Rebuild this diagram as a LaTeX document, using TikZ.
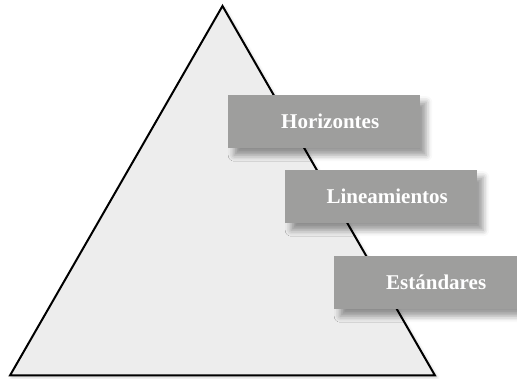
\documentclass[tikz,border=0pt]{standalone}
\usepackage{fontspec}
\setmainfont{Liberation Serif}
\usetikzlibrary{positioning,shadows.blur}
\definecolor{pyrfill}{RGB}{237,237,237}
\definecolor{tagfill}{RGB}{158,158,157}

\begin{document}
\begin{tikzpicture}[x=1pt,y=-1pt]

  % Styles
  \tikzstyle{pyramid}=[draw=black,line width=2pt,fill=pyrfill,blur shadow={shadow xshift=2pt,shadow yshift=-2pt,shadow blur radius=3pt,shadow opacity=20}]
  \tikzstyle{level}=[fill=tagfill,anchor=north west,minimum width=192pt,minimum height=53pt,inner sep=0pt,text=white,font=\fontsize{21}{24}\selectfont\bfseries,blur shadow={shadow xshift=6pt,shadow yshift=-7pt,shadow blur radius=6pt,shadow opacity=40}]

  % \lvl{<id>}{<corner>}{<label>}
  \newcommand{\lvl}[3]{\node[level] (#1) at #2 {\hspace*{12pt}#3};}

  % ===========================================================================

  \useasboundingbox (0,0) rectangle (517,379);

  % Draw pyramid
  \coordinate (apex) at (222.5,6);
  \coordinate (base-left) at (10,375.5);
  \coordinate (base-right) at (435,375.5);
  \draw[pyramid] (apex) -- (base-right) -- (base-left) -- cycle;

  % Draw levels
  \lvl{horizontes}{(228,95)}{Horizontes}
  \lvl{lineamientos}{(285,170)}{Lineamientos}
  \lvl{estandares}{(334,256)}{Estándares}

\end{tikzpicture}
\end{document}
